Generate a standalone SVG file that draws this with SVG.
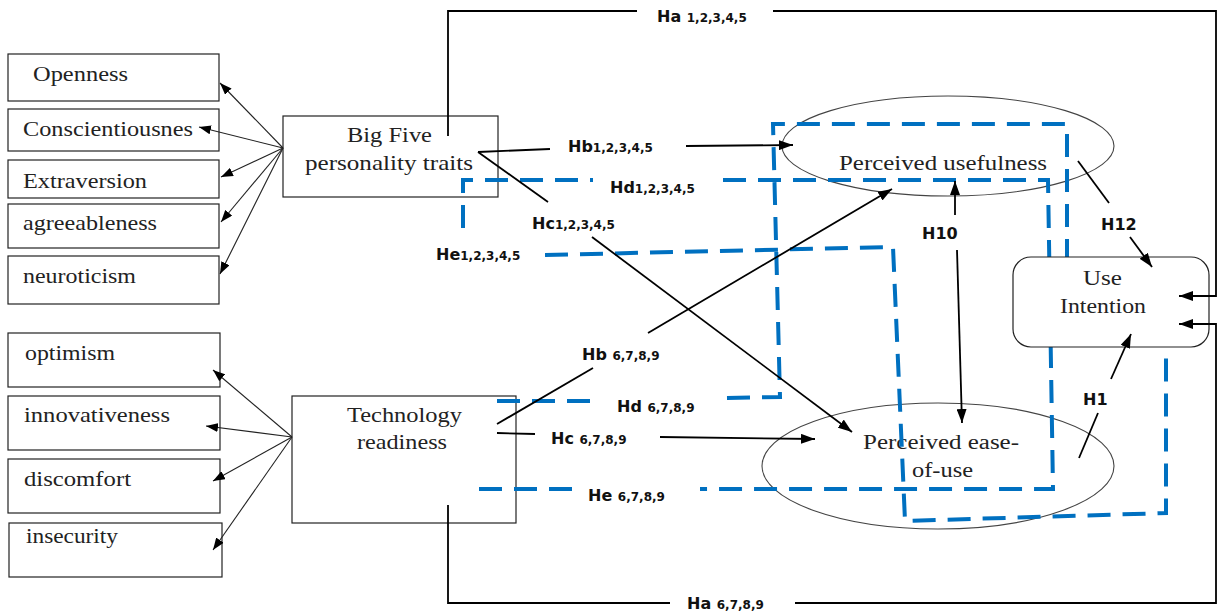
<svg xmlns="http://www.w3.org/2000/svg" width="1218" height="615" viewBox="0 0 1218 615">
<defs>
<marker id="ah" markerWidth="14" markerHeight="10" refX="14" refY="5" orient="auto" markerUnits="userSpaceOnUse"><path d="M0,0 L14,5 L0,10 z" fill="#000"/></marker>
<marker id="ahs" markerWidth="12" markerHeight="9" refX="12" refY="4.5" orient="auto" markerUnits="userSpaceOnUse"><path d="M0,0 L12,4.5 L0,9 z" fill="#000"/></marker>
</defs>
<style>
.box{fill:#fff;stroke:#222;stroke-width:1.2}
.ell{fill:none;stroke:#444;stroke-width:1.1}
.t{font-family:"Liberation Serif","Times New Roman",serif;fill:#222}
.h{font-family:"DejaVu Sans",Verdana,sans-serif;font-weight:bold;fill:#111}
.hs{font-size:12px}
.ln{fill:none;stroke:#000;stroke-width:1.8}
.thin{fill:none;stroke:#222;stroke-width:1.1}
.bl{fill:none;stroke:#0070C0;stroke-width:4;stroke-dasharray:23 12}
</style>
<rect width="1218" height="615" fill="#fff"/>

<g id="openness"><rect class="box" x="8" y="54" width="211" height="47"/><text class="t" x="33" y="81" font-size="22" textLength="95" lengthAdjust="spacingAndGlyphs">Openness</text></g>
<g id="conscientiousness"><rect class="box" x="8" y="109" width="211" height="42"/><text class="t" x="23" y="136" font-size="22" textLength="170" lengthAdjust="spacingAndGlyphs">Conscientiousnes</text></g>
<g id="extraversion"><rect class="box" x="8" y="160" width="211" height="38"/><text class="t" x="23" y="188" font-size="22" textLength="124" lengthAdjust="spacingAndGlyphs">Extraversion</text></g>
<g id="agreeableness"><rect class="box" x="8" y="204" width="211" height="44"/><text class="t" x="23" y="230" font-size="22" textLength="134" lengthAdjust="spacingAndGlyphs">agreeableness</text></g>
<g id="neuroticism"><rect class="box" x="8" y="256" width="211" height="48"/><text class="t" x="23" y="283" font-size="22" textLength="113" lengthAdjust="spacingAndGlyphs">neuroticism</text></g>

<g id="optimism"><rect class="box" x="8" y="333" width="212" height="54"/><text class="t" x="25" y="360" font-size="22" textLength="90" lengthAdjust="spacingAndGlyphs">optimism</text></g>
<g id="innovativeness"><rect class="box" x="8" y="396" width="212" height="54"/><text class="t" x="24" y="422" font-size="22" textLength="146" lengthAdjust="spacingAndGlyphs">innovativeness</text></g>
<g id="discomfort"><rect class="box" x="8" y="459" width="212" height="54"/><text class="t" x="24" y="486" font-size="22" textLength="107" lengthAdjust="spacingAndGlyphs">discomfort</text></g>
<g id="insecurity"><rect class="box" x="9" y="523" width="213" height="54"/><text class="t" x="26" y="543" font-size="22" textLength="92" lengthAdjust="spacingAndGlyphs">insecurity</text></g>

<g id="bigfive"><rect class="box" x="283" y="116" width="215" height="81"/><text class="t" x="347" y="142" font-size="21" textLength="85" lengthAdjust="spacingAndGlyphs">Big Five</text><text class="t" x="305" y="170" font-size="21" textLength="168" lengthAdjust="spacingAndGlyphs">personality traits</text></g>
<g id="techreadiness"><rect class="box" x="292" y="396" width="224" height="127"/><text class="t" x="347" y="422" font-size="21" textLength="115" lengthAdjust="spacingAndGlyphs">Technology</text><text class="t" x="357" y="449" font-size="21" textLength="90" lengthAdjust="spacingAndGlyphs">readiness</text></g>

<g id="usefulness"><ellipse class="ell" cx="948" cy="146" rx="166" ry="50"/><text class="t" x="839" y="170" font-size="20" textLength="208" lengthAdjust="spacingAndGlyphs">Perceived usefulness</text></g>
<g id="easeofuse"><ellipse class="ell" cx="938" cy="466" rx="176" ry="63"/><text class="t" x="863" y="449" font-size="20" textLength="156" lengthAdjust="spacingAndGlyphs">Perceived ease-</text><text class="t" x="912" y="477" font-size="20" textLength="61" lengthAdjust="spacingAndGlyphs">of-use</text></g>

<g id="blue-dashed-connectors">
<polyline class="bl" points="463,228 463,180 593,180"/>
<polyline class="bl" points="723,180 1048,180 1053,489 700,489"/>
<polyline class="bl" points="572,489 479,489"/>
<polyline class="bl" points="545,255 893,247 905,521 1166,513 1166,347"/>
<polyline class="bl" points="497,401 592,401"/>
<polyline class="bl" points="727,398 780,397 773,124 1067,124 1067,257"/>
</g>

<g id="useintention"><rect class="box" x="1013" y="257" width="196" height="90" rx="18" ry="18"/><text class="t" x="1083" y="285" font-size="20" textLength="39" lengthAdjust="spacingAndGlyphs">Use</text><text class="t" x="1060" y="313" font-size="20" textLength="86" lengthAdjust="spacingAndGlyphs">Intention</text></g>

<g id="connectors">
<g id="trait-arrows">
<line class="thin" x1="283" y1="148" x2="220" y2="83" marker-end="url(#ahs)"/>
<line class="thin" x1="283" y1="148" x2="199" y2="127" marker-end="url(#ahs)"/>
<line class="thin" x1="283" y1="148" x2="221" y2="177" marker-end="url(#ahs)"/>
<line class="thin" x1="283" y1="148" x2="221" y2="222" marker-end="url(#ahs)"/>
<line class="thin" x1="283" y1="148" x2="220" y2="274" marker-end="url(#ahs)"/>
<line class="thin" x1="292" y1="437" x2="213" y2="370" marker-end="url(#ahs)"/>
<line class="thin" x1="292" y1="437" x2="206" y2="426" marker-end="url(#ahs)"/>
<line class="thin" x1="292" y1="437" x2="213" y2="481" marker-end="url(#ahs)"/>
<line class="thin" x1="292" y1="437" x2="213" y2="550" marker-end="url(#ahs)"/>
</g>
<g id="paths">
<polyline class="ln" points="448,136 448,11 637,11"/>
<polyline class="ln" points="773,11 1216,11 1216,296 1179,296" marker-end="url(#ah)"/>
<polyline class="ln" points="448,505 448,603 670,603"/>
<polyline class="ln" points="795,603 1216,603 1216,324 1179,324" marker-end="url(#ah)"/>
<line class="ln" x1="478" y1="152" x2="550" y2="149"/>
<line class="ln" x1="686" y1="146" x2="793" y2="145" marker-end="url(#ah)"/>
<line class="ln" x1="478" y1="152" x2="548" y2="202"/>
<line class="ln" x1="592" y1="237" x2="852" y2="432" marker-end="url(#ah)"/>
<line class="ln" x1="497" y1="424" x2="593" y2="368"/>
<line class="ln" x1="648" y1="333" x2="892" y2="189" marker-end="url(#ah)"/>
<line class="ln" x1="497" y1="433" x2="535" y2="434"/>
<line class="ln" x1="660" y1="437" x2="815" y2="439" marker-end="url(#ah)"/>
<line class="ln" x1="955" y1="215" x2="955" y2="181" marker-end="url(#ah)"/>
<line class="ln" x1="957" y1="250" x2="962" y2="423" marker-end="url(#ah)"/>
<line class="ln" x1="1078" y1="161" x2="1109" y2="203"/>
<line class="ln" x1="1130" y1="237" x2="1152" y2="267" marker-end="url(#ah)"/>
<line class="ln" x1="1079" y1="458" x2="1098" y2="413"/>
<line class="ln" x1="1111" y1="379" x2="1131" y2="334" marker-end="url(#ah)"/>
</g>
<g id="labels">
<text class="h" x="657" y="22" font-size="16">Ha <tspan class="hs">1,2,3,4,5</tspan></text>
<text class="h" x="568" y="152" font-size="16">Hb<tspan class="hs">1,2,3,4,5</tspan></text>
<text class="h" x="610" y="193" font-size="16">Hd<tspan class="hs">1,2,3,4,5</tspan></text>
<text class="h" x="532" y="229" font-size="16">Hc<tspan class="hs">1,2,3,4,5</tspan></text>
<text class="h" x="436" y="260" font-size="16">He<tspan class="hs">1,2,3,4,5</tspan></text>
<text class="h" x="582" y="360" font-size="16">Hb <tspan class="hs">6,7,8,9</tspan></text>
<text class="h" x="617" y="412" font-size="16">Hd <tspan class="hs">6,7,8,9</tspan></text>
<text class="h" x="551" y="444" font-size="16">Hc <tspan class="hs">6,7,8,9</tspan></text>
<text class="h" x="588" y="501" font-size="16">He <tspan class="hs">6,7,8,9</tspan></text>
<text class="h" x="687" y="609" font-size="16">Ha <tspan class="hs">6,7,8,9</tspan></text>
<text class="h" x="922" y="239" font-size="16">H10</text>
<text class="h" x="1101" y="230" font-size="16">H12</text>
<text class="h" x="1083" y="405" font-size="16">H1</text>
</g>
</g>
</svg>
